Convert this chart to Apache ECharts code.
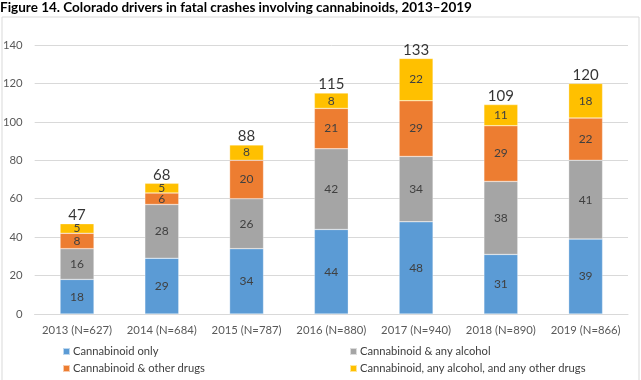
<!DOCTYPE html>
<html><head><meta charset="utf-8">
<script src="https://cdn.jsdelivr.net/npm/echarts@6/dist/echarts.min.js"></script>
<style>html,body{margin:0;padding:0;background:#fff}#c{width:641px;height:380px}</style>
</head><body><div id="c"></div>
<script>
const categories = ['2013 (N=627)','2014 (N=684)','2015 (N=787)','2016 (N=880)','2017 (N=940)','2018 (N=890)','2019 (N=866)'];
const cannabinoidOnly = [18,29,34,44,48,31,39];
const cannabinoidAlcohol = [16,28,26,42,34,38,41];
const cannabinoidOtherDrugs = [8,6,20,21,29,29,22];
const cannabinoidAll = [5,5,8,8,22,11,18];
const totals = [47,68,88,115,133,109,120];
const seriesNames = ['Cannabinoid only','Cannabinoid & any alcohol','Cannabinoid & other drugs','Cannabinoid, any alcohol, and any other drugs'];
const colors = ['#5B9BD5','#A5A5A5','#ED7D31','#FFC000'];
const yTicks = {min:0,max:140,interval:20};

const FONT = 'Lato';
function barSeries(name, data, color){
  return {name, type:'bar', stack:'s', data, barWidth:'40%',
    itemStyle:{color, borderColor:'rgba(255,255,255,0.6)', borderWidth:0.5},
    label:{show:true, position:'inside', color:'#404040', fontSize:12, fontFamily:FONT},
    emphasis:{disabled:true}};
}
const legendBase = {orient:'vertical', top:346, padding:0, height:40, itemGap:6, itemWidth:7, itemHeight:7, icon:'rect',
  textStyle:{fontFamily:FONT, fontSize:11.2, color:'#404040', padding:[0,0,0,-2]}, selectedMode:false};
const chart = echarts.init(document.getElementById('c'), null, {renderer:'canvas'});
chart.setOption({
  animation:false,
  title:{text:'Figure 14. Colorado drivers in fatal crashes involving cannabinoids, 2013\u20132019', left:0, top:0, padding:[1,0,0,0],
    textStyle:{fontFamily:FONT, fontWeight:'bold', fontSize:13.5, color:'#000'}},
  graphic:[{type:'rect', shape:{x:2, y:17, width:637, height:380}, style:{fill:'none', stroke:'#d9d9d9', lineWidth:1}, silent:true}],
  grid:{left:32, right:13, top:45, bottom:66},
  legend:[
    Object.assign({data:[seriesNames[0], seriesNames[2]], left:62}, legendBase),
    Object.assign({data:[seriesNames[1], seriesNames[3]], left:349}, legendBase)
  ],
  xAxis:{type:'category', data:categories,
    axisLine:{lineStyle:{color:'#d9d9d9'}}, axisTick:{show:false},
    axisLabel:{interval:0, color:'#595959', fontFamily:FONT, fontSize:11.3, margin:11}},
  yAxis:{type:'value', min:yTicks.min, max:yTicks.max, interval:yTicks.interval,
    axisLine:{show:false}, axisTick:{show:false},
    splitLine:{lineStyle:{color:'#d9d9d9'}},
    axisLabel:{color:'#595959', fontFamily:FONT, fontSize:11.3, margin:12}},
  series:[
    barSeries(seriesNames[0], cannabinoidOnly, colors[0]),
    barSeries(seriesNames[1], cannabinoidAlcohol, colors[1]),
    barSeries(seriesNames[2], cannabinoidOtherDrugs, colors[2]),
    barSeries(seriesNames[3], cannabinoidAll, colors[3]),
    {name:'Total', type:'scatter', data:totals, symbolSize:0, itemStyle:{color:'rgba(0,0,0,0)'},
     label:{show:true, position:'top', distance:1, color:'#000', fontSize:15, fontFamily:FONT}, emphasis:{disabled:true}}
  ]
});
</script></body></html>
